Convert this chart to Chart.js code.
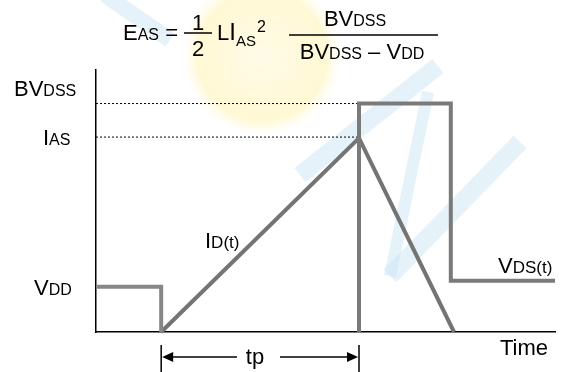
<!DOCTYPE html>
<html>
<head>
<meta charset="utf-8">
<script src="https://cdn.jsdelivr.net/npm/chart.js@4.4.0/dist/chart.umd.min.js"></script>
<style>
  html, body { margin: 0; padding: 0; background: #fff; }
  #wrap { width: 574px; height: 372px; }
</style>
</head>
<body>
<div id="wrap"><canvas id="avalanche" width="574" height="372"></canvas></div>
<script>
// time runs 0..100 along the sketch, levels 0..100 up the sketch
var vddTime = [0, 14.2, 14.2];
var vddLevel = [17.3, 17.3, 0];
var vdsTime = [57.3, 57.3, 77.3, 77.3, 100];
var vdsLevel = [0, 87.2, 87.2, 19.6, 19.6];
var idTime = [14.2, 57.3, 78];
var idLevel = [0, 74.0, 0];
var refLevels = [87.2, 74.4];   // BVDSS, IAS dotted guides
var refEnd = 57.3;
var levelNames = [['BV', 'DSS'], ['I', 'AS'], ['V', 'DD']];
var levelValues = [87.2, 74.4, 17.3];
var tpStart = 14.2, tpEnd = 57.3;

var FONT = '"Liberation Sans", Arial, sans-serif';
var BIG = 22, SMALL = 16;

function pts(xs, ys) {
    return xs.map(function (x, i) { return { x: x, y: ys[i] }; });
}

// draw a row of [text, size, dy] pieces
function drawRuns(ctx, runs, x, y, align) {
    var w = 0;
    runs.forEach(function (r) { ctx.font = r[1] + 'px ' + FONT; w += ctx.measureText(r[0]).width; });
    if (align === 'center') x -= w / 2;
    else if (align === 'right') x -= w;
    ctx.textAlign = 'left';
    ctx.textBaseline = 'alphabetic';
    runs.forEach(function (r) {
        ctx.font = r[1] + 'px ' + FONT;
        ctx.fillText(r[0], x, y + (r[2] || 0));
        x += ctx.measureText(r[0]).width;
    });
    return x;
}

function hline(ctx, x1, x2, y, w) {
    ctx.beginPath();
    ctx.lineWidth = w;
    ctx.moveTo(x1, y);
    ctx.lineTo(x2, y);
    ctx.stroke();
}

// faint logo behind the sketch
var watermark = {
    id: 'watermark',
    beforeDraw: function (chart) {
        var ctx = chart.ctx;
        ctx.save();
        ctx.fillStyle = '#fff';
        ctx.fillRect(0, 0, chart.width, chart.height);
        var g = ctx.createRadialGradient(262, 56, 5, 262, 56, 80);
        g.addColorStop(0, 'rgba(255,248,205,0.5)');
        g.addColorStop(0.8, 'rgba(255,240,160,0.45)');
        g.addColorStop(1, 'rgba(255,248,215,0)');
        ctx.fillStyle = g;
        ctx.beginPath();
        ctx.arc(262, 56, 80, 0, Math.PI * 2);
        ctx.fill();
        ctx.strokeStyle = 'rgba(200,226,245,0.45)';
        ctx.lineCap = 'butt';
        [[105, -5, 170, 40, 16], [300, 175, 438, 66, 18], [428, 92, 390, 276, 12], [390, 276, 520, 142, 18]].forEach(function (s) {
            ctx.beginPath();
            ctx.lineWidth = s[4];
            ctx.moveTo(s[0], s[1]);
            ctx.lineTo(s[2], s[3]);
            ctx.stroke();
        });
        ctx.restore();
    }
};

// formula, level names, trace names and the tp span
var labels = {
    id: 'labels',
    afterDraw: function (chart) {
        var ctx = chart.ctx, xs = chart.scales.x, ys = chart.scales.y;
        ctx.save();
        ctx.fillStyle = '#000';
        ctx.strokeStyle = '#000';

        // formula
        drawRuns(ctx, [['E', BIG], ['AS', SMALL], [' =', BIG]], 123, 40);
        drawRuns(ctx, [['1', BIG]], 198, 30, 'center');
        hline(ctx, 184, 212, 33, 1.5);
        drawRuns(ctx, [['2', BIG]], 198, 56, 'center');
        var x = drawRuns(ctx, [['L', BIG], ['I', BIG + 2], ['AS', SMALL - 1, 6]], 217, 40);
        drawRuns(ctx, [['2', SMALL]], x + 1, 32);
        hline(ctx, 289, 438, 35, 1.5);
        drawRuns(ctx, [['BV', BIG], ['DSS', SMALL]], 355, 26, 'center');
        drawRuns(ctx, [['BV', BIG], ['DSS', SMALL], [' \u2013 ', BIG], ['V', BIG], ['DD', SMALL]], 362, 59, 'center');

        // level names on the left
        var lx = [14, 43, 34], dy = [-8, 8, 8];
        levelNames.forEach(function (n, i) {
            drawRuns(ctx, [[n[0], BIG], [n[1], SMALL]], lx[i], ys.getPixelForValue(levelValues[i]) + dy[i]);
        });

        // trace names
        drawRuns(ctx, [['I', BIG], ['D(t)', SMALL + 1]], 205, 248);
        drawRuns(ctx, [['V', BIG], ['DS(t)', SMALL + 1]], 498, 273);
        drawRuns(ctx, [['Time', BIG]], 500, 355);

        // tp span
        var a = xs.getPixelForValue(tpStart), b = xs.getPixelForValue(tpEnd);
        var ay = 357;
        ctx.lineWidth = 1.5;
        ctx.beginPath();
        ctx.moveTo(a, 345); ctx.lineTo(a, 372);
        ctx.moveTo(b, 345); ctx.lineTo(b, 372);
        ctx.stroke();
        hline(ctx, a + 8, 237, ay, 1.5);
        hline(ctx, 280, b - 8, ay, 1.5);
        ctx.beginPath();
        ctx.moveTo(a + 1, ay); ctx.lineTo(a + 12, ay - 5); ctx.lineTo(a + 12, ay + 5); ctx.closePath();
        ctx.moveTo(b - 1, ay); ctx.lineTo(b - 12, ay - 5); ctx.lineTo(b - 12, ay + 5); ctx.closePath();
        ctx.fill();
        drawRuns(ctx, [['tp', BIG]], 255, 364, 'center');
        ctx.restore();
    }
};

var datasets = [
    { data: pts(vddTime, vddLevel), borderColor: '#878787', order: 1 },
    { data: pts(vdsTime, vdsLevel), borderColor: '#7a7a7a', order: 1 },
    { data: pts(idTime, idLevel), borderColor: '#747474', order: 1 }
];
refLevels.forEach(function (lv) {
    datasets.push({
        data: pts([0, refEnd], [lv, lv]),
        borderColor: '#000',
        borderWidth: 1,
        borderDash: [2, 2],
        order: 2
    });
});
datasets.forEach(function (d) {
    d.borderWidth = d.borderWidth || 4;
    d.pointRadius = 0;
    d.tension = 0;
    d.clip = false;
    d.fill = false;
    d.borderJoinStyle = 'miter';
});

var ctx = document.getElementById('avalanche').getContext('2d');
new Chart(ctx, {
    type: 'line',
    data: { datasets: datasets },
    options: {
        responsive: false,
        animation: false,
        devicePixelRatio: 1,
        layout: { padding: { left: 96, top: 70, right: 19, bottom: 40 } },
        plugins: { legend: { display: false }, tooltip: { enabled: false } },
        scales: {
            x: {
                type: 'linear', min: 0, max: 100,
                grid: { display: false, drawTicks: false },
                ticks: { display: false },
                border: { display: true, color: '#000', width: 1.5 }
            },
            y: {
                type: 'linear', min: 0, max: 100,
                grid: { display: false, drawTicks: false },
                ticks: { display: false },
                border: { display: true, color: '#000', width: 1.5 }
            }
        }
    },
    plugins: [watermark, labels]
});
</script>
</body>
</html>
